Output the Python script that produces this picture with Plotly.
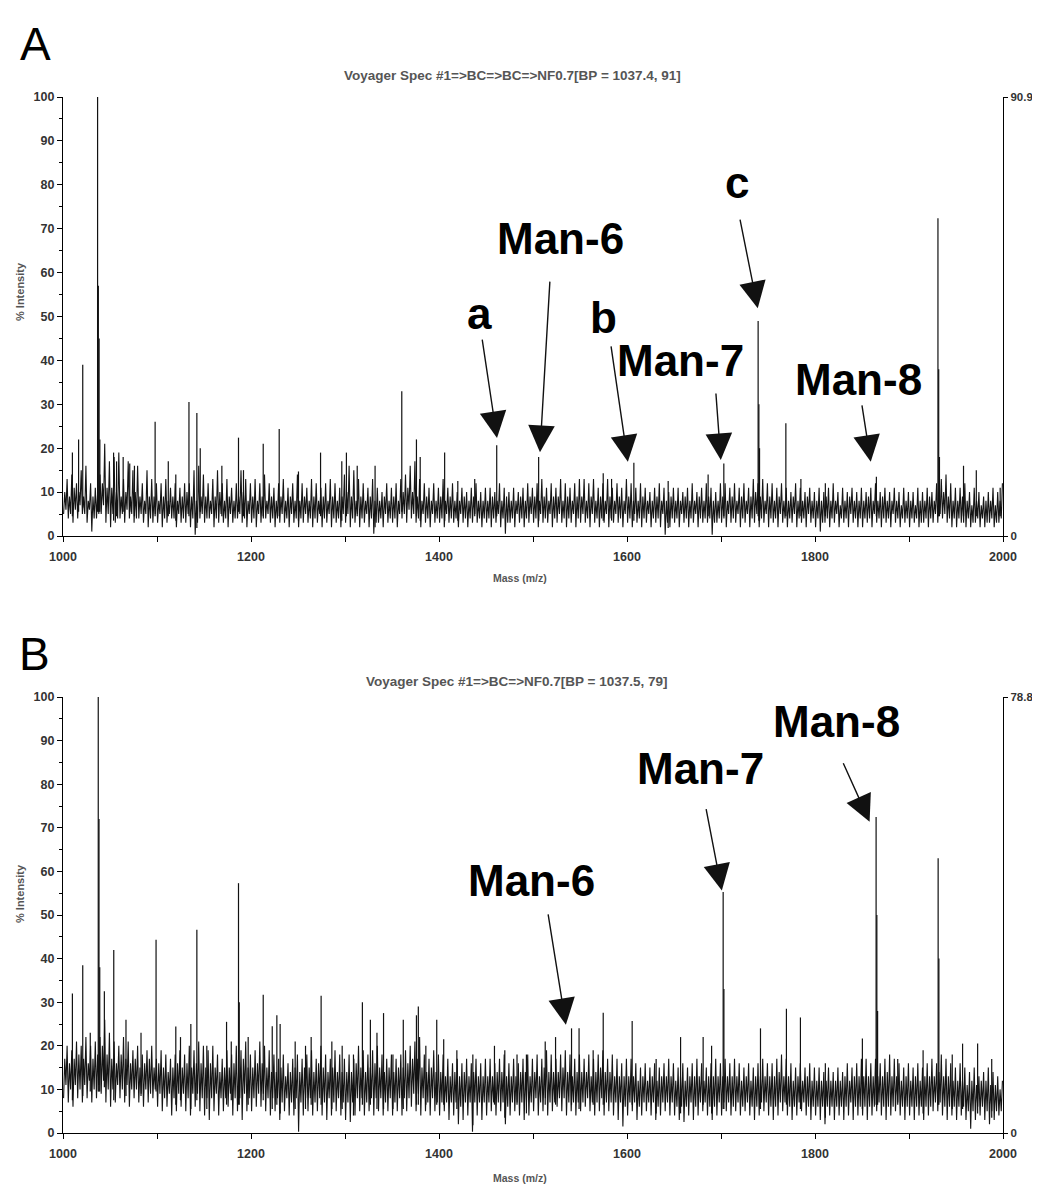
import plotly.graph_objects as go

# ---------------- data ----------------
NOISE_START = 1000
NOISE_BIN = 5

# Panel A noise (per 5 Da bin): extreme high / low excursions and inner (core) high / low
A_noise_hi = [
    13, 14, 12, 15, 16, 12, 11, 14, 21, 17,
    18, 19, 13, 17, 15, 16, 12, 15, 13, 12,
    12, 13, 11, 12, 11, 12, 12, 15, 16, 14,
    12, 13, 15, 12, 13, 11, 12, 15, 13, 12,
    13, 12, 14, 12, 11, 12, 13, 11, 12, 14,
    12, 11, 13, 12, 11, 12, 13, 12, 11, 14,
    16, 15, 13, 12, 11, 13, 11, 10, 12, 11,
    12, 13, 14, 16, 17, 13, 12, 11, 12, 11,
    13, 11, 12, 10, 11, 10, 11, 12, 10, 11,
    11, 10, 12, 11, 10, 11, 10, 11, 12, 11,
    12, 13, 11, 12, 11, 13, 12, 11, 12, 13,
    13, 12, 13, 11, 12, 13, 11, 12, 11, 13,
    12, 11, 12, 11, 10, 11, 12, 11, 10, 11,
    11, 10, 11, 12, 10, 11, 12, 11, 10, 12,
    12, 11, 12, 11, 12, 11, 13, 12, 13, 12,
    12, 11, 12, 11, 10, 12, 11, 10, 11, 10,
    11, 10, 11, 12, 10, 11, 10, 11, 10, 11,
    10, 11, 12, 10, 11, 10, 11, 10, 11, 10,
    10, 11, 10, 11, 10, 12, 13, 14, 12, 11,
    11, 12, 10, 11, 10, 9, 10, 11, 10, 12,
]
A_noise_lo = [
    5, 4, 3, 4, 5, 3, 1, 4, 5, 3,
    2, 3, 4, 3, 4, 3, 4, 3, 2, 3,
    3, 2, 3, 4, 2, 3, 3, 2, 0.3, 4,
    3, 4, 2, 3, 3, 2, 3, 4, 3, 2,
    3, 2, 3, 4, 3, 2, 3, 3, 2, 3,
    2, 3, 3, 2, 3, 2, 3, 2, 3, 2,
    3, 2, 3, 2, 3, 2, 0.5, 3, 2, 3,
    3, 2, 4, 3, 4, 3, 2, 3, 2, 3,
    3, 2, 3, 3, 2, 3, 2, 3, 3, 2,
    3, 2, 3, 2, 0.5, 3, 2, 3, 2, 3,
    3, 2, 3, 3, 2, 3, 3, 2, 3, 2,
    3, 3, 2, 3, 2, 3, 2, 3, 3, 2,
    3, 2, 3, 2, 3, 2, 3, 2, 0.3, 2,
    3, 2, 3, 2, 3, 2, 3, 3, 0.3, 3,
    3, 2, 3, 3, 2, 3, 2, 3, 2, 3,
    2, 3, 2, 3, 2, 3, 2, 3, 2, 3,
    2, 1, 3, 2, 3, 2, 3, 2, 3, 2,
    2, 3, 2, 3, 2, 3, 2, 3, 2, 3,
    2, 3, 2, 3, 2, 3, 3, 4, 3, 2,
    2, 3, 2, 2, 3, 2, 2, 3, 2, 3,
]
A_noise_hi2 = [
    10, 9, 11, 10, 9, 8, 9, 10, 12, 11,
    11, 10, 9, 10, 9, 10, 9, 8, 9, 9,
    8, 9, 8, 9, 8, 9, 10, 9, 8, 9,
    9, 8, 9, 10, 8, 9, 8, 9, 10, 8,
    9, 8, 9, 8, 9, 8, 9, 8, 9, 8,
    8, 9, 8, 9, 8, 9, 8, 9, 8, 9,
    10, 9, 8, 9, 8, 9, 8, 8, 9, 8,
    9, 8, 10, 11, 10, 9, 8, 9, 8, 8,
    9, 8, 9, 8, 8, 9, 8, 9, 8, 8,
    8, 9, 8, 8, 9, 8, 8, 9, 8, 9,
    9, 8, 9, 8, 9, 9, 8, 9, 8, 9,
    9, 8, 9, 8, 9, 8, 9, 8, 9, 8,
    9, 8, 8, 9, 8, 8, 9, 8, 8, 9,
    8, 8, 9, 8, 8, 9, 8, 9, 8, 8,
    9, 8, 9, 8, 9, 8, 9, 10, 9, 8,
    9, 8, 9, 8, 8, 9, 8, 8, 9, 8,
    8, 8, 9, 8, 8, 7, 8, 9, 8, 8,
    8, 9, 8, 8, 9, 8, 8, 8, 7, 8,
    8, 7, 8, 8, 9, 8, 10, 10, 9, 8,
    8, 9, 8, 7, 8, 7, 8, 8, 7, 8,
]
A_noise_lo2 = [
    6, 5, 6, 7, 5, 6, 4, 5, 7, 5,
    5, 4, 5, 6, 5, 4, 5, 5, 4, 5,
    5, 4, 5, 4, 5, 4, 5, 4, 3, 5,
    4, 5, 4, 5, 4, 5, 4, 5, 4, 5,
    4, 5, 4, 5, 4, 4, 5, 4, 5, 4,
    4, 5, 4, 4, 5, 4, 5, 4, 4, 5,
    5, 4, 5, 4, 5, 4, 3, 4, 5, 4,
    4, 5, 5, 6, 5, 4, 5, 4, 5, 4,
    4, 5, 4, 4, 5, 4, 4, 5, 4, 4,
    4, 4, 5, 4, 3, 4, 5, 4, 4, 5,
    4, 5, 4, 5, 4, 5, 4, 4, 5, 4,
    5, 4, 5, 4, 4, 5, 4, 5, 4, 5,
    4, 5, 4, 4, 5, 4, 4, 5, 3, 4,
    4, 5, 4, 4, 5, 4, 4, 4, 3, 4,
    4, 5, 4, 5, 4, 5, 4, 5, 4, 5,
    4, 4, 5, 4, 4, 5, 4, 4, 5, 4,
    4, 3, 4, 4, 5, 4, 4, 5, 4, 4,
    4, 4, 5, 4, 4, 4, 5, 4, 4, 4,
    4, 4, 3, 4, 4, 5, 5, 5, 4, 4,
    4, 3, 4, 3, 4, 4, 3, 4, 3, 4,
]
A_peak_mz = [1010, 1016.6, 1021, 1036.8, 1037.6, 1038.4, 1039.2, 1053.8, 1057, 1064,
             1071, 1076, 1098, 1112, 1120, 1134, 1142.4, 1146, 1169, 1186.7,
             1192, 1213, 1230, 1250.5, 1274, 1296.6, 1301.5, 1313, 1332, 1360.4,
             1376, 1380, 1406, 1420, 1438, 1461.4, 1506, 1574.7, 1583.6, 1607.3,
             1643.8, 1686.3, 1703, 1739.5, 1740.3, 1741, 1769, 1785, 1811, 1865.3,
             1930.8, 1931.6, 1932.4, 1958, 1971.6, 1997]
A_peak_int = [19, 22, 39, 100, 57, 45, 22, 19, 17, 18,
              16.5, 16, 26, 17, 14, 30.5, 28, 20, 16, 22.4,
              15, 21, 24.4, 14.7, 19, 17, 19, 16, 16, 33,
              22, 18, 19, 12.5, 13, 20.7, 18, 14.3, 13, 16.7,
              12.5, 14, 16.5, 49, 30, 20, 25.7, 13, 12, 13.5,
              72.4, 38, 18, 16, 15, 11]

# Panel B
B_noise_hi = [
    20, 19, 21, 20, 22, 20, 21, 22, 26, 23,
    21, 20, 22, 21, 19, 20, 18, 19, 20, 17,
    19, 18, 17, 18, 19, 18, 20, 19, 21, 20,
    19, 20, 18, 17, 19, 18, 20, 19, 21, 18,
    19, 21, 20, 19, 18, 17, 18, 16, 17, 18,
    17, 18, 19, 17, 20, 18, 17, 19, 18, 17,
    18, 17, 20, 19, 18, 19, 20, 18, 17, 18,
    17, 18, 19, 20, 21, 22, 18, 17, 19, 18,
    18, 17, 16, 17, 16, 17, 16, 17, 16, 17,
    17, 16, 17, 18, 16, 17, 16, 17, 18, 17,
    18, 17, 19, 18, 17, 18, 19, 18, 17, 18,
    17, 18, 17, 18, 19, 17, 18, 17, 16, 17,
    17, 16, 15, 16, 15, 16, 15, 16, 17, 16,
    15, 16, 15, 16, 17, 16, 15, 16, 17, 16,
    17, 16, 17, 16, 15, 16, 15, 16, 17, 16,
    16, 17, 18, 17, 16, 15, 16, 15, 16, 15,
    15, 14, 15, 14, 15, 14, 16, 15, 16, 17,
    17, 16, 17, 16, 17, 18, 17, 16, 15, 16,
    15, 16, 15, 16, 17, 16, 18, 17, 16, 15,
    16, 15, 14, 15, 13, 14, 15, 14, 13, 12,
]
B_noise_lo = [
    8, 7, 6, 8, 7, 8, 7, 8, 9, 7,
    6, 7, 8, 7, 6, 8, 7, 6, 7, 8,
    6, 5, 6, 4, 5, 6, 5, 4, 6, 5,
    4, 3, 5, 4, 5, 6, 4, 5, 3, 5,
    5, 6, 6, 5, 4, 5, 3, 5, 4, 4,
    0.3, 4, 5, 4, 5, 4, 3, 4, 5, 4,
    3, 2.5, 4, 5, 4, 5, 4, 5, 4, 5,
    4, 5, 4, 5, 6, 5, 4, 5, 4, 5,
    4, 5, 3, 4, 2, 3, 4, 0.3, 4, 3,
    4, 5, 4, 5, 2, 4, 5, 4, 3, 4,
    5, 4, 5, 4, 5, 6, 5, 4, 5, 4,
    5, 6, 5, 4, 5, 4, 5, 4, 3, 1.5,
    4, 5, 3, 4, 5, 4, 3, 4, 5, 4,
    4, 3, 2.5, 4, 3, 4, 5, 4, 3, 4,
    4, 5, 4, 5, 4, 5, 4, 3, 4, 5,
    4, 3, 4, 5, 4, 3, 4, 5, 4, 3,
    4, 3, 2, 4, 3, 4, 3, 4, 3, 4,
    4, 3, 4, 5, 4, 3, 4, 5, 4, 3,
    4, 3, 4, 3, 4, 5, 5, 4, 3, 4,
    3, 4, 3, 1, 3, 4, 3, 2, 3, 4,
]
B_noise_hi2 = [
    17, 16, 17, 18, 17, 16, 17, 18, 20, 18,
    17, 16, 18, 17, 16, 17, 15, 16, 17, 15,
    16, 15, 14, 15, 16, 15, 16, 15, 16, 16,
    15, 16, 15, 14, 15, 15, 16, 15, 17, 15,
    15, 16, 16, 15, 14, 14, 15, 13, 14, 15,
    14, 15, 15, 14, 16, 15, 14, 15, 14, 14,
    14, 14, 16, 15, 14, 15, 16, 15, 14, 15,
    14, 15, 15, 16, 17, 17, 15, 14, 15, 14,
    14, 13, 13, 14, 13, 14, 13, 14, 13, 13,
    13, 13, 14, 14, 13, 13, 13, 14, 14, 13,
    14, 13, 15, 14, 14, 14, 15, 14, 13, 14,
    14, 14, 13, 14, 15, 14, 14, 13, 13, 13,
    13, 13, 12, 13, 12, 13, 12, 13, 13, 13,
    12, 13, 12, 13, 13, 13, 12, 13, 13, 13,
    13, 13, 13, 13, 12, 13, 12, 13, 13, 13,
    13, 13, 14, 13, 13, 12, 13, 12, 13, 12,
    12, 12, 12, 12, 12, 12, 13, 12, 13, 13,
    13, 13, 13, 13, 13, 14, 13, 13, 12, 13,
    12, 13, 12, 13, 13, 13, 14, 13, 13, 12,
    12, 12, 11, 12, 11, 12, 12, 11, 11, 10,
]
B_noise_lo2 = [
    11, 10, 11, 10, 11, 12, 10, 11, 12, 10,
    10, 11, 10, 11, 10, 10, 9, 10, 9, 10,
    9, 8, 9, 8, 9, 9, 8, 9, 9, 8,
    8, 8, 9, 8, 8, 9, 8, 8, 9, 8,
    8, 9, 9, 8, 8, 8, 7, 8, 7, 8,
    7, 8, 8, 7, 8, 7, 8, 7, 8, 7,
    7, 7, 8, 8, 7, 8, 8, 8, 7, 8,
    7, 8, 8, 8, 9, 9, 8, 7, 8, 7,
    7, 7, 7, 7, 6, 7, 7, 7, 7, 7,
    7, 7, 7, 7, 6, 7, 7, 7, 7, 7,
    8, 7, 8, 7, 7, 8, 8, 7, 7, 7,
    7, 8, 7, 7, 8, 7, 7, 7, 7, 6,
    7, 7, 6, 7, 7, 7, 6, 7, 7, 7,
    6, 6, 6, 7, 6, 7, 7, 6, 6, 7,
    7, 7, 6, 7, 6, 7, 6, 6, 7, 7,
    6, 6, 7, 7, 6, 6, 7, 7, 6, 6,
    6, 6, 6, 6, 6, 6, 6, 7, 6, 6,
    6, 6, 6, 7, 6, 6, 6, 7, 6, 6,
    6, 6, 6, 6, 6, 7, 7, 6, 6, 6,
    6, 6, 5, 5, 6, 6, 5, 5, 5, 5,
]
B_peak_mz = [1010, 1021, 1029, 1037.5, 1038.3, 1039.1, 1044, 1054, 1067, 1083,
             1099, 1120, 1125, 1136, 1142.4, 1153, 1174, 1179, 1186.7, 1187.5,
             1197, 1213, 1222.6, 1227.5, 1231, 1247, 1258, 1264, 1274.6, 1286,
             1297, 1309, 1318.5, 1327, 1334, 1341, 1351, 1362, 1376, 1378,
             1386, 1397.6, 1405, 1419, 1436, 1459, 1470, 1483, 1493, 1513,
             1524, 1541, 1549, 1564, 1574.7, 1605.5, 1631, 1657, 1681, 1690,
             1702.3, 1703.1, 1742, 1769.6, 1784.5, 1811, 1850.4, 1865, 1865.8, 1866.6,
             1888, 1915, 1931, 1931.8, 1946, 1957, 1973, 1988]
B_peak_int = [32, 38.5, 23, 100, 72, 38, 32.5, 42, 26, 23,
              44.3, 24.4, 22, 25, 46.6, 20, 25.5, 21, 57.3, 30,
              22, 31.7, 24.5, 27, 25, 21, 20, 22, 31.5, 21,
              20, 18, 30, 26, 23, 27.5, 18, 26, 27, 29,
              20, 26, 21.5, 19, 18, 20, 19, 18, 18, 21,
              22, 24, 24, 19, 27.6, 25.7, 17, 22, 22, 20,
              55.3, 33, 24, 28.5, 26.5, 16, 21.7, 72.5, 50, 28,
              17, 19, 63, 40, 18, 20.5, 20.5, 17]

A_right_max = 90.9
B_right_max = 78.8
A_title = "Voyager Spec #1=>BC=>BC=>NF0.7[BP = 1037.4, 91]"
B_title = "Voyager Spec #1=>BC=>NF0.7[BP = 1037.5, 79]"

# annotated peaks: label, head (m/z, %), arrow tail offset (px), label centre (px in page)
A_labels = [("a", 1461.7, 22.3, -15, -100, 479, 314),
            ("Man-6", 1507.4, 19.1, 10, -172, 560, 238),
            ("b", 1600.9, 16.9, -17, -117, 603, 318),
            ("Man-7", 1699.8, 17.3, -5, -68, 680, 360),
            ("c", 1739.1, 51.9, -18, -90, 737, 182),
            ("Man-8", 1859.3, 16.9, -9, -58, 858, 379)]
B_labels = [("Man-8", 1858.1, 71.4, -27, -60, 836, 721),
            ("Man-7", 1700.9, 55.6, -16, -83, 700, 768),
            ("Man-6", 1535.0, 24.8, -18, -112, 531, 880)]

# ---------------- layout helpers ----------------
OFF = 8                      # browser body margin
W, H = 1040 - OFF, 1195 - OFF
L = 63 - OFF
R = W - (1003 - OFF)
PW = W - L - R


def pxx(x):
    return (x - OFF - L) / PW


def pxy(y):
    return 1 - (y - OFF) / H


def noise_xy(hi, lo, hi2, lo2):
    xs, ys = [], []
    step = NOISE_BIN / 4
    for i in range(len(hi)):
        b = NOISE_START + i * NOISE_BIN
        xs += [b + step * 0.5, b + step * 1.5, b + step * 2.5, b + step * 3.5]
        ys += [lo[i], hi2[i], lo2[i], hi[i]]
    return xs, ys


def spike_xy(mz, inten, lo):
    xs, ys = [], []
    for m, v in zip(mz, inten):
        idx = min(int((m - NOISE_START) // NOISE_BIN), len(lo) - 1)
        xs += [m, m, None]
        ys += [lo[idx] + 1.5, v, None]
    return xs, ys


fig = go.Figure()
for (hi, lo, hi2, lo2, mz, it, xa, ya) in [
        (A_noise_hi, A_noise_lo, A_noise_hi2, A_noise_lo2, A_peak_mz, A_peak_int, "x", "y"),
        (B_noise_hi, B_noise_lo, B_noise_hi2, B_noise_lo2, B_peak_mz, B_peak_int, "x2", "y2")]:
    nx, ny = noise_xy(hi, lo, hi2, lo2)
    fig.add_trace(go.Scatter(x=nx, y=ny, mode="lines", line=dict(color="#151515", width=1.1),
                             xaxis=xa, yaxis=ya, hoverinfo="skip", showlegend=False))
    sx, sy = spike_xy(mz, it, lo)
    fig.add_trace(go.Scatter(x=sx, y=sy, mode="lines", line=dict(color="#111", width=1.2),
                             xaxis=xa, yaxis=ya, hoverinfo="skip", showlegend=False))
# invisible traces for right axes
fig.add_trace(go.Scatter(x=[1000], y=[0], mode="markers", marker=dict(opacity=0),
                         xaxis="x", yaxis="y3", hoverinfo="skip", showlegend=False))
fig.add_trace(go.Scatter(x=[1000], y=[0], mode="markers", marker=dict(opacity=0),
                         xaxis="x2", yaxis="y4", hoverinfo="skip", showlegend=False))

tickfont = dict(family="Liberation Sans, Arial, sans-serif", size=12.5, color="#333", weight="bold")
rtickfont = dict(family="Liberation Sans, Arial, sans-serif", size=11.5, color="#333", weight="bold")

xcommon = dict(range=[1000, 2000], domain=[0, 1], showline=True, linecolor="black", linewidth=1.3,
               ticks="outside", ticklen=5, tickcolor="black", tickwidth=1.2, dtick=200, tick0=1000,
               minor=dict(dtick=100, ticks="outside", ticklen=5, tickcolor="black", showgrid=False),
               showgrid=False, zeroline=False, tickfont=tickfont, automargin=False,
               ticklabelstandoff=4)
ycommon = dict(range=[0, 100], showline=True, linecolor="black", linewidth=1.3,
               ticks="outside", ticklen=5, tickcolor="black", tickwidth=1.2, dtick=10,
               minor=dict(dtick=5, ticks="outside", ticklen=3, tickcolor="black", showgrid=False),
               showgrid=False, zeroline=False, tickfont=tickfont, automargin=False)
rcommon = dict(side="right", showline=True, linecolor="black", linewidth=1.3, ticks="outside",
               ticklen=4, tickcolor="black", showgrid=False, zeroline=False, tickfont=rtickfont,
               automargin=False)

fig.update_layout(
    width=W, height=H, margin=dict(l=L, r=R, t=0, b=0),
    paper_bgcolor="white", plot_bgcolor="white", template="none",
    xaxis=dict(anchor="y", **xcommon),
    xaxis2=dict(anchor="y2", **xcommon),
    yaxis=dict(anchor="x", domain=[pxy(536), pxy(97)], **ycommon),
    yaxis2=dict(anchor="x2", domain=[pxy(1133), pxy(697)], **ycommon),
    yaxis3=dict(overlaying="y", anchor="x", range=[0, A_right_max], tickvals=[0, A_right_max],
                ticktext=["0", f"{A_right_max}"], **rcommon),
    yaxis4=dict(overlaying="y2", anchor="x2", range=[0, B_right_max], tickvals=[0, B_right_max],
                ticktext=["0", f"{B_right_max}"], **rcommon),
)

ann = []


def txt(t, cx, cy, size, color="black", weight="normal", family="Liberation Sans, Arial, sans-serif", angle=0):
    ann.append(dict(text=t, x=pxx(cx), y=pxy(cy), xref="paper", yref="paper", showarrow=False,
                    xanchor="center", yanchor="middle", textangle=angle,
                    font=dict(family=family, size=size, color=color, weight=weight)))


txt("A", 35, 44, 46)
txt("B", 34, 654, 46)
txt(A_title, 512, 75, 13.5, color="#555", weight="bold")
txt(B_title, 517, 681, 13.5, color="#555", weight="bold")
txt("Mass (m/z)", 520, 578, 10.5, color="#555", weight="bold")
txt("Mass (m/z)", 520, 1178, 10.5, color="#555", weight="bold")
txt("% Intensity", 20, 292, 11, color="#555", weight="bold", angle=-90)
txt("% Intensity", 20, 894, 11, color="#555", weight="bold", angle=-90)

bigfam = "Liberation Sans, Arial, sans-serif"
for labels, xr, yr in [(A_labels, "x", "y"), (B_labels, "x2", "y2")]:
    for (lab, hm, hi_, ax, ay, cx, cy) in labels:
        ann.append(dict(text="", x=hm, y=hi_, xref=xr, yref=yr, ax=ax, ay=ay, showarrow=True,
                        arrowhead=2, arrowsize=3.8, arrowwidth=1.4, arrowcolor="#111", standoff=0))
        txt(lab, cx, cy, 44, weight="bold", family=bigfam)

fig.update_layout(annotations=ann)
fig.write_html("out.html")
